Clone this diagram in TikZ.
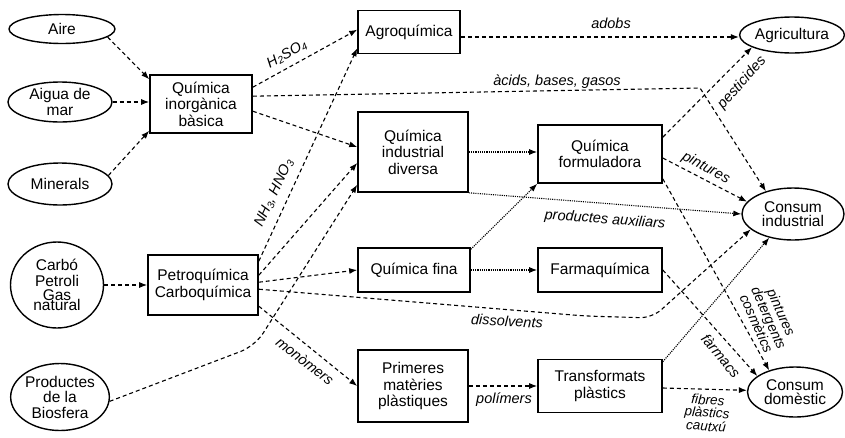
\documentclass[tikz,border=0pt]{standalone}
\usepackage{fontspec}
\setmainfont{Liberation Sans}
\usetikzlibrary{shapes.geometric,arrows.meta,calc}
\begin{document}
\begin{tikzpicture}[x=1pt,y=-1pt,
  box/.style={draw, line width=1.6pt, rectangle, inner sep=0pt, align=center, font=\fontsize{15.5}{16.5}\selectfont},
  oval/.style={draw, line width=1.4pt, ellipse, inner sep=0pt, align=center, font=\fontsize{15.5}{16.5}\selectfont},
  tip/.style={-{Latex[length=8pt,width=6pt]}},
  dsh/.style={tip, line width=1.1pt, dash pattern=on 4pt off 3pt},
  dtt/.style={tip, line width=1.1pt, dash pattern=on 1.1pt off 1.1pt},
  lbl/.style={font=\itshape\fontsize{14.5}{14}\selectfont, inner sep=0pt, align=center},
  lblm/.style={lbl, font=\itshape\fontsize{14}{13.5}\selectfont},
  lbls/.style={lbl, font=\itshape\fontsize{13.5}{12.5}\selectfont}
]
\useasboundingbox (0,0) rectangle (845,437);
% sources
\node[oval, minimum width=106pt, minimum height=29pt] (aire) at (62,29) {Aire};
\node[oval, minimum width=104pt, minimum height=40pt] (aigua) at (60,102) {Aigua de\\[-1pt]mar};
\node[oval, minimum width=104pt, minimum height=42pt] (miner) at (60,184) {Minerals};
\node[oval, minimum width=93pt, minimum height=86pt] (carbo) at (57,285) {Carbó\\Petroli\\[-3pt]Gas\\[-6pt]natural};
\node[oval, minimum width=94pt, minimum height=67pt] (bios) at (60,397) {Productes\\[-1pt]de la\\[-1pt]Biosfera};
% boxes
\node[box, minimum width=102pt, minimum height=58pt] (qib) at (201,104) {Química\\inorgànica\\bàsica};
\node[box, minimum width=110pt, minimum height=60pt] (petro) at (203,285) {Petroquímica\\Carboquímica};
\node[box, minimum width=102pt, minimum height=43pt] (agro) at (409,32) {Agroquímica};
\node[box, minimum width=110pt, minimum height=80pt] (qid) at (413,152) {Química\\industrial\\diversa};
\node[box, minimum width=112pt, minimum height=44pt] (fina) at (414,270) {Química fina};
\node[box, minimum width=110pt, minimum height=72pt] (prim) at (413,386) {Primeres\\matèries\\plàstiques};
\node[box, minimum width=124pt, minimum height=58pt] (qf) at (600,154) {Química\\formuladora};
\node[box, minimum width=124pt, minimum height=44pt] (farma) at (600,270) {Farmaquímica};
\node[box, minimum width=124pt, minimum height=53pt] (trans) at (600,386) {Transformats\\plàstics};
% destinations
\node[oval, minimum width=104pt, minimum height=36pt] (agri) at (792,35) {Agricultura};
\node[oval, minimum width=102pt, minimum height=52pt] (cind) at (793,214) {Consum\\[-3pt]industrial};
\node[oval, minimum width=95pt, minimum height=50pt] (cdom) at (795,392) {Consum\\[-3pt]domèstic};
% bend points
\coordinate (bendA) at (700,88);
\coordinate (bendB) at (255,346);
\coordinate (bendC1) at (585,316);
\coordinate (bendC2) at (652,318);
% connectors
\draw[dsh] (aire.-10) -- ($(qib.north west)+(0,5)$);
\draw[dsh] (aigua.east) -- (aigua.east -| qib.west);
\draw[dsh] (miner.10) -- ($(qib.south west)+(0,-3)$);
\draw[dsh] (carbo.east) -- (carbo.east -| petro.west);
\draw[dsh, rounded corners=15pt] (bios.-5) -- (bendB) -- ($(qid.south west)+(0,-8)$);
\draw[dsh] ($(qib.north east)+(0,13)$) -- ($(agro.north west)+(0,20)$);
\draw[dsh] ($(qib.north east)+(0,22)$) -- (bendA) -- (cind.140);
\draw[dsh] ($(qib.north east)+(0,37)$) -- ($(qid.west)+(0,-5)$);
\draw[dsh] ($(petro.north east)+(0,7)$) -- ($(agro.south west)+(0,-6)$);
\draw[dsh] ($(petro.north east)+(0,21)$) -- ($(qid.west)+(0,11)$);
\draw[dsh] ($(petro.north east)+(0,28)$) -- (fina.west);
\draw[dsh, rounded corners=12pt] ($(petro.north east)+(0,35)$) -- (bendC1) -- (bendC2) -- (cind.200);
\draw[dsh] ($(petro.north east)+(0,52)$) -- (prim.west);
\draw[dsh] ($(agro.east)+(0,5)$) -- (agri.west |- {$(agro.east)+(0,5)$});
\draw[dtt] (qid.east) -- (qid.east -| qf.west);
\draw[dtt] (qid.south east) -- (cind.180);
\draw[dtt] ($(fina.north east)+(0,2)$) -- (qf.south west);
\draw[dtt] (fina.east) -- (fina.east -| farma.west);
\draw[dsh] (prim.east |- trans.east) -- (trans.west);
\draw[dsh] ($(qf.north east)+(0,13)$) -- (agri.197);
\draw[dsh] ($(qf.east)+(0,4)$) -- (cind.165);
\draw[dsh] ($(qf.south east)+(0,-5)$) -- (cdom.140);
\draw[dsh] (farma.east) -- (cdom.157);
\draw[dtt] ($(trans.north east)+(0,3)$) -- (cind.225);
\draw[dsh] ($(trans.east)+(0,2)$) -- (cdom.178);
% labels
\node[lbl, rotate=29] (lh) at (287,54) {H\textsubscript{2}SO\textsubscript{4}};
\node[lbl, rotate=65] (lnh) at (274,193) {NH\textsubscript{3}, HNO\textsubscript{3}};
\node[lbl] (lad) at (611,23) {adobs};
\node[lbl] (lac) at (557,82) {àcids, bases, gasos};
\node[lbl, rotate=48] (lpe) at (742,83) {pesticides};
\node[lbl, rotate=-28] (lpi) at (706,168) {pintures};
\node[lbl, rotate=-4.5] (lpa) at (605,220) {productes auxiliars};
\node[lbl, rotate=-3] (ldi) at (507,321) {dissolvents};
\node[lbl, rotate=-38] (lmo) at (305,361) {monòmers};
\node[lbl] (lpo) at (504,400) {polímers};
\node[lbl, rotate=-50] (lfa) at (721,356) {fàrmacs};
\node[lblm, rotate=-66] (lpdc) at (769,318) {pintures\\detergents\\cosmètics};
\node[lbls, rotate=-4] (lfpc) at (707,413) {fibres\\plàstics\\cautxú};
\end{tikzpicture}
\end{document}
